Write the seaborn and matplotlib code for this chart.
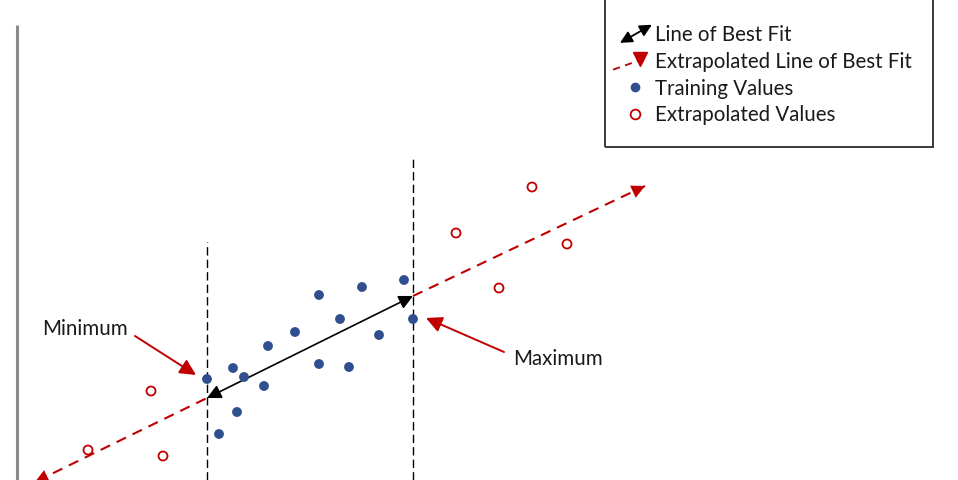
import matplotlib
matplotlib.use("Agg")
import matplotlib.pyplot as plt
import seaborn as sns
import pandas as pd
from matplotlib.patches import FancyArrowPatch, Rectangle
from matplotlib.lines import Line2D
from matplotlib.legend_handler import HandlerBase

# ---------------- data ----------------
train_x = [19.0, 21.6, 22.7, 22.0, 20.2, 24.7, 25.1, 27.8, 30.2, 30.2, 32.3, 33.2, 34.5, 36.2, 38.7, 39.6]
train_y = [10.1, 11.2, 10.3, 6.8, 4.6, 9.4, 13.4, 14.8, 18.5, 11.6, 16.1, 11.3, 19.3, 14.5, 20.0, 16.1]

extra_x = [13.4, 7.1, 14.6, 51.5, 43.9, 55.0, 48.2]
extra_y = [8.9, 3.0, 2.4, 29.3, 24.7, 23.6, 19.2]

fit_x = [19.0, 39.6]
fit_y = [8.2, 18.4]

ext_left_x = [1.8, 19.0]
ext_left_y = [-0.2, 8.2]
ext_right_x = [39.6, 62.8]
ext_right_y = [18.4, 29.4]

vline_x = [19.0, 39.6]
vline_top = [23.8, 32.2]

axis_top = 45.5

legend_labels = ["Line of Best Fit", "Extrapolated Line of Best Fit",
                 "Training Values", "Extrapolated Values"]

annot_labels = ["Minimum", "Maximum"]
annot_text_xy = [(2.5, 15.1), (49.6, 12.1)]
annot_tail = [(11.8, 14.4), (48.7, 12.8)]
annot_tip = [(17.9, 10.5), (40.9, 16.2)]

BLUE = "#2F4F8F"
RED = "#C00000"
FS = 14.8

# ---------------- figure ----------------
sns.set_style("white")
plt.rcParams["font.family"] = ["Lato", "DejaVu Sans"]

fig = plt.figure(figsize=(9.58, 4.8), dpi=100)
ax = fig.add_axes([0, 0, 1, 1])
ax.set_xlim(-1.7, 94.1)
ax.set_ylim(0, 48)
ax.axis("off")

# left axis line
ax.plot([0, 0], [0, axis_top], color="#8a8a8a", lw=2.2, solid_capstyle="butt")

# vertical dashed bounds
for vx, vt in zip(vline_x, vline_top):
    ax.plot([vx, vx], [0, vt], color="black", lw=1.0, ls=(0, (6, 3)))

# extrapolated dashed line segments
df_l = pd.DataFrame({"x": ext_left_x, "y": ext_left_y})
df_r = pd.DataFrame({"x": ext_right_x, "y": ext_right_y})
sns.lineplot(data=df_l, x="x", y="y", ax=ax, color=RED, lw=1.5,
             linestyle=(0, (5, 3.5)), sort=False, estimator=None)
sns.lineplot(data=df_r, x="x", y="y", ax=ax, color=RED, lw=1.5,
             linestyle=(0, (5, 3.5)), sort=False, estimator=None)

def head(tip, frm, color, ms):
    ax.annotate("", xy=tip, xytext=frm,
                arrowprops=dict(arrowstyle="-|>", color=color, lw=0.01,
                                mutation_scale=ms, shrinkA=0, shrinkB=0),
                annotation_clip=False)

def unit_back(p, q, d=1.2):
    dx, dy = q[0] - p[0], q[1] - p[1]
    n = (dx ** 2 + dy ** 2) ** 0.5
    return (p[0] + dx / n * d, p[1] + dy / n * d)

# arrowheads at the ends of the extrapolated line
lt = (ext_left_x[0], ext_left_y[0])
head(lt, unit_back(lt, (ext_left_x[1], ext_left_y[1])), RED, 24)
rt = (ext_right_x[1], ext_right_y[1])
head(rt, unit_back(rt, (ext_right_x[0], ext_right_y[0])), RED, 24)

# line of best fit, double-headed
ax.annotate("", xy=(fit_x[1], fit_y[1]), xytext=(fit_x[0], fit_y[0]),
            arrowprops=dict(arrowstyle="<|-|>", color="black", lw=1.2,
                            mutation_scale=21, shrinkA=0, shrinkB=0))

# points
df_t = pd.DataFrame({"x": train_x, "y": train_y})
df_e = pd.DataFrame({"x": extra_x, "y": extra_y})
sns.scatterplot(data=df_t, x="x", y="y", ax=ax, color=BLUE, s=50,
                edgecolor="none", zorder=5)
sns.scatterplot(data=df_e, x="x", y="y", ax=ax, s=42, facecolor="none",
                edgecolor=RED, linewidth=1.3, zorder=5)

# annotations
for lab, txy, tail, tip in zip(annot_labels, annot_text_xy, annot_tail, annot_tip):
    ax.text(txy[0], txy[1], lab, fontsize=FS, color="#1a1a1a", va="center", ha="left")
    ax.annotate("", xy=tip, xytext=tail,
                arrowprops=dict(arrowstyle="-|>", color=RED, lw=1.4,
                                mutation_scale=24, shrinkA=0, shrinkB=0))

# ---------------- legend ----------------
class HandlerDoubleArrow(HandlerBase):
    def create_artists(self, legend, orig_handle, xdescent, ydescent,
                       width, height, fontsize, trans):
        x0 = -xdescent
        yc = -ydescent + height / 2
        p = FancyArrowPatch((x0 + 0.03 * width, yc - 0.63 * height),
                            (x0 + width, yc + 0.63 * height),
                            arrowstyle="<|-|>", mutation_scale=18,
                            color="black", lw=1.3, shrinkA=0, shrinkB=0,
                            transform=trans)
        return [p]

class HandlerDashArrow(HandlerBase):
    def create_artists(self, legend, orig_handle, xdescent, ydescent,
                       width, height, fontsize, trans):
        x0 = -xdescent
        yc = -ydescent + height / 2
        ln = Line2D([x0 - 0.18 * width, x0 + 0.6 * width],
                    [yc - 0.63 * height, yc + 0.0 * height],
                    color=RED, lw=1.3, ls=(0, (4, 3)), transform=trans)
        mk = Line2D([x0 + 0.64 * width], [yc + 0.08 * height], marker="v",
                    markersize=10, color=RED, lw=0, transform=trans)
        return [ln, mk]

h_fit = Line2D([], [], color="black")
h_ext = Line2D([], [], color=RED)
h_tr = Line2D([], [], marker="o", color=BLUE, lw=0, markersize=7, markeredgewidth=0)
h_ex = Line2D([], [], marker="o", markerfacecolor="none", markeredgecolor=RED,
              lw=0, markersize=7, markeredgewidth=1.3)

leg = fig.legend([h_fit, h_ext, h_tr, h_ex], legend_labels,
                 handler_map={h_fit: HandlerDoubleArrow(), h_ext: HandlerDashArrow()},
                 loc="upper left", bbox_to_anchor=(619 / 958, 1 - 25 / 480),
                 frameon=False, fontsize=FS, handlelength=1.6, handletextpad=0.15,
                 labelspacing=0.33, borderpad=0, borderaxespad=0)
for t in leg.get_texts():
    t.set_color("#1a1a1a")

fig.patches.append(Rectangle((605 / 958, 1 - 147 / 480), 328 / 958, 150 / 480,
                             transform=fig.transFigure, fill=False,
                             edgecolor="#3a3a3a", lw=1.4, zorder=10))

fig.savefig("out.png", dpi=100)
